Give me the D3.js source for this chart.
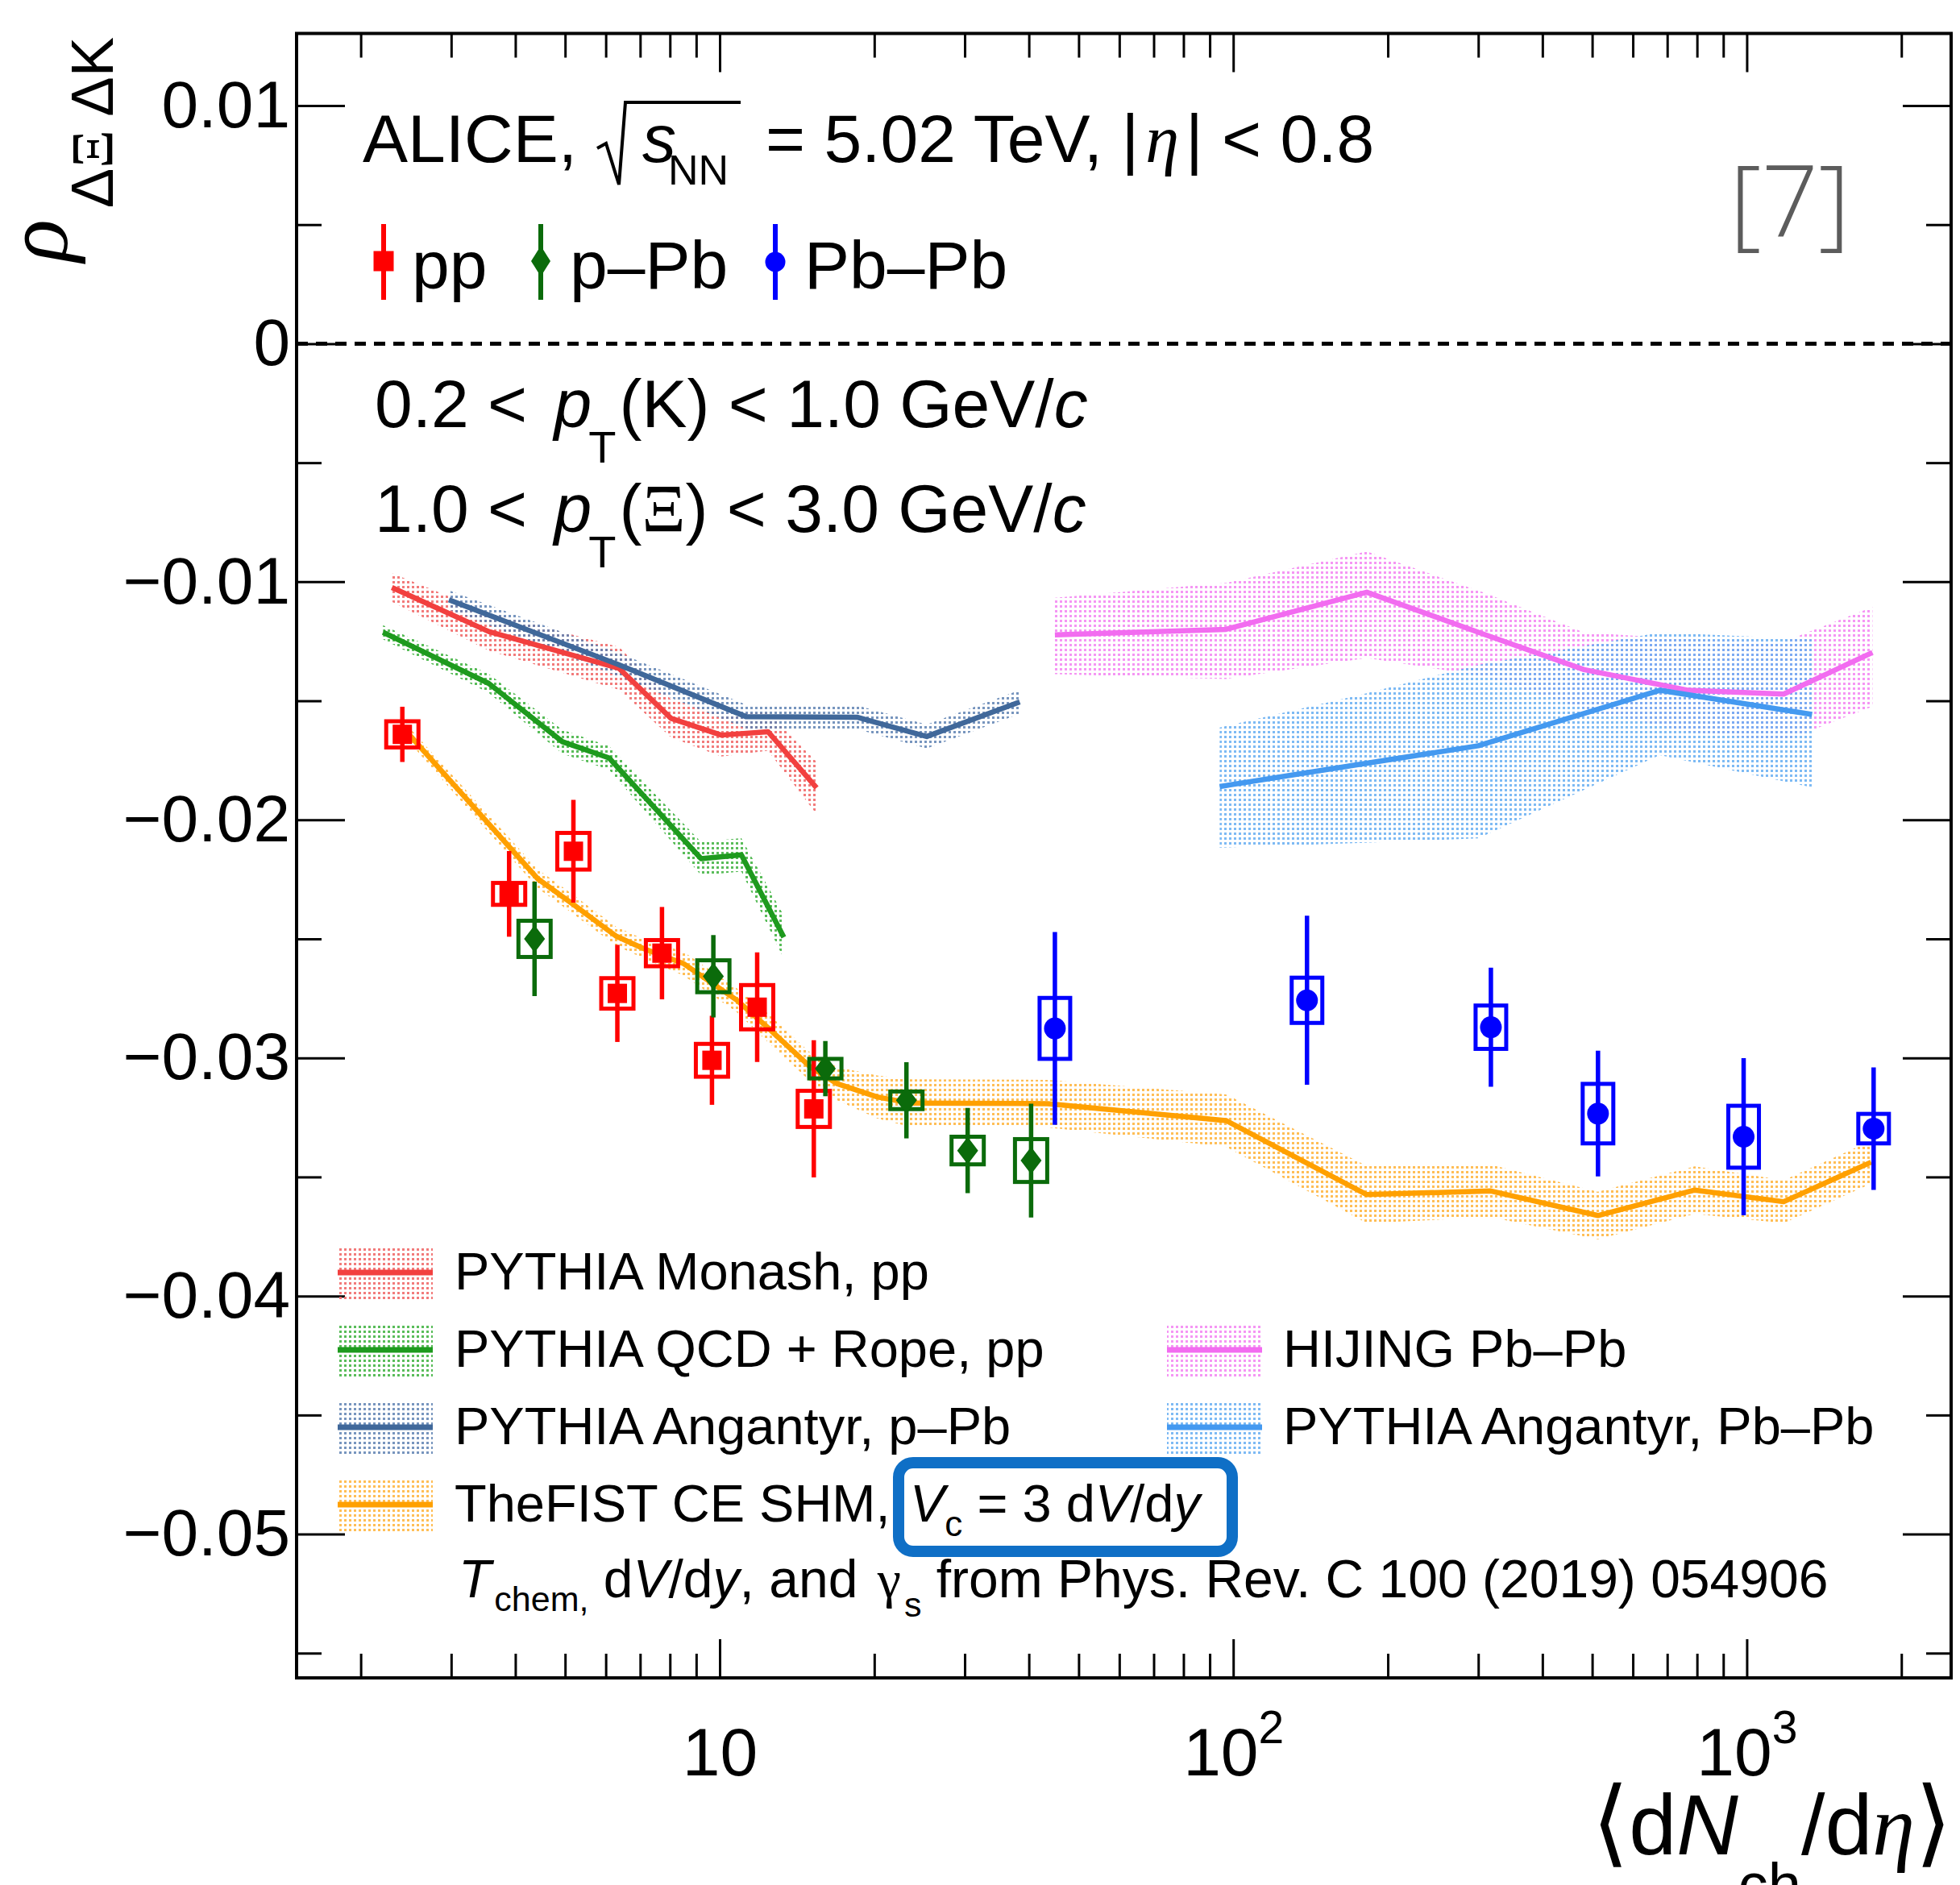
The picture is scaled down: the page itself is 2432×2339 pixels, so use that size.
<!DOCTYPE html>
<html><head><meta charset="utf-8">
<script src="https://cdn.jsdelivr.net/npm/d3@7"></script>
<style>
body{margin:0;background:#fff}
</style>
</head><body>
<svg id="chart" width="2432" height="2339" xmlns="http://www.w3.org/2000/svg"></svg>
<script>
// ---------------- DATA ----------------
// pp (red squares)
const ppX    = [2.41, 3.89, 5.19, 6.32, 7.72, 9.66, 11.83, 15.25];
const ppY    = [-0.01641, -0.02311, -0.02132, -0.02729, -0.02560, -0.03010, -0.02787, -0.03214];
const ppStat = [0.00116, 0.00180, 0.00216, 0.00204, 0.00194, 0.00187, 0.00230, 0.00288];
const ppSys  = [0.00055, 0.00046, 0.00077, 0.00064, 0.00055, 0.00069, 0.00093, 0.00076];
// p-Pb (green diamonds)
const pPbX    = [4.36, 9.72, 16.06, 23.1, 30.4, 40.4];
const pPbY    = [-0.02500, -0.02657, -0.03045, -0.03178, -0.03389, -0.03431];
const pPbStat = [0.00240, 0.00173, 0.00116, 0.00160, 0.00179, 0.00239];
const pPbSys  = [0.00076, 0.00067, 0.00041, 0.00037, 0.00058, 0.00090];
// Pb-Pb (blue circles)
const PbPbX    = [44.95, 139.2, 317.5, 513.2, 986, 1766];
const PbPbY    = [-0.02876, -0.02758, -0.02871, -0.03234, -0.03331, -0.03297];
const PbPbStat = [0.00405, 0.00355, 0.00250, 0.00264, 0.00330, 0.00257];
const PbPbSys  = [0.00128, 0.00095, 0.00091, 0.00125, 0.00130, 0.00062];

// Models
const monashX  = [2.30, 3.55, 6.37, 8.04, 10.07, 12.42, 15.44];
const monashY  = [-0.01024, -0.01209, -0.01364, -0.01574, -0.01644, -0.01630, -0.01866];
const monashE  = [0.0006, 0.0008, 0.0009, 0.0008, 0.0009, 0.0008, 0.0011];

const ropeX = [2.21, 3.55, 4.94, 6.09, 9.20, 11.02, 13.33];
const ropeY = [-0.01212, -0.01427, -0.01672, -0.01740, -0.02163, -0.02147, -0.02493];
const ropeE = [0.0003, 0.0004, 0.0005, 0.0005, 0.0007, 0.0007, 0.0009];

const angPPbX = [2.97, 6.37, 11.27, 18.5, 25.3, 38.4];
const angPPbY = [-0.01076, -0.01349, -0.01567, -0.01569, -0.01650, -0.01505];
const angPPbE = [0.0004, 0.0005, 0.0005, 0.0005, 0.0005, 0.0005];

const fistX = [2.41, 4.42, 5.17, 6.28, 7.09, 8.49, 10.79, 12.35, 15.01, 16.93, 20.26, 23.54, 43.5, 96.8, 182, 317.5, 513, 792, 1180, 1746];
const fistY = [-0.01610, -0.02247, -0.02353, -0.02488, -0.02540, -0.02603, -0.02757, -0.02869, -0.03038, -0.03108, -0.03164, -0.03190, -0.03192, -0.03263, -0.03574, -0.03559, -0.03662, -0.03555, -0.03604, -0.03438];
const fistE = [0.0003, 0.0004, 0.0004, 0.0004, 0.0004, 0.0005, 0.0005, 0.0006, 0.0006, 0.0007, 0.0009, 0.0010, 0.0010, 0.0011, 0.0012, 0.0011, 0.0010, 0.0010, 0.0009, 0.0009];

const hijingX  = [44.95, 96.8, 182, 310, 482, 770, 1180, 1757];
const hijingY  = [-0.01223, -0.01200, -0.01044, -0.01223, -0.01369, -0.01456, -0.01472, -0.01297];
const hijingHi = [-0.01067, -0.01005, -0.00873, -0.01048, -0.01213, -0.01242, -0.01252, -0.01106];
const hijingLo = [-0.01388, -0.01408, -0.01320, -0.01398, -0.01534, -0.01631, -0.01670, -0.01524];

const angPbPbX  = [94.1, 176, 300, 677, 1340];
const angPbPbY  = [-0.01860, -0.01767, -0.01689, -0.01456, -0.01557];
const angPbPbHi = [-0.01612, -0.01476, -0.01349, -0.01213, -0.01242];
const angPbPbLo = [-0.02117, -0.02097, -0.02078, -0.01728, -0.01864];

// Axis ticks
const yMajorTicks = [-0.05, -0.04, -0.03, -0.02, -0.01, 0, 0.01];
const yMinorTicks = [-0.055, -0.045, -0.035, -0.025, -0.015, -0.005, 0.005];
const xMajorTicks = [10, 100, 1000];
const xMajorLabels = [["10", ""], ["10", "2"], ["10", "3"]];
const xMinorTicks = [2,3,4,5,6,7,8,9,20,30,40,50,60,70,80,90,200,300,400,500,600,700,800,900,2000];

// ---------------- LAYOUT ----------------
const L = 368, R = 2421, T = 41.5, B = 2082;
const svg = d3.select('#chart');
const x = d3.scaleLog().domain([1.5, 2500]).range([L, R]);
const y = d3.scaleLinear().domain([-0.05604, 0.01303]).range([B, T]);
const SANS = "'Liberation Sans', Arial, Helvetica, sans-serif";
const SERIF = "'Liberation Serif', 'Times New Roman', serif";

const C = {
  pp: '#FF0000', pPb: '#0B6B0B', PbPb: '#0000FF',
  monash: '#F2403F', rope: '#1E9A1E', angP: '#40689A', fist: '#FFA000',
  hijing: '#F26CF0', angPb: '#4499F0'
};
const defs = svg.append('defs');
function pattern(id, color) {
  const p = defs.append('pattern').attr('id', id).attr('patternUnits', 'userSpaceOnUse')
    .attr('width', 6).attr('height', 6);
  p.append('rect').attr('x', 1).attr('y', 1).attr('width', 3).attr('height', 3)
    .attr('fill', color).attr('fill-opacity', 0.85);
}
pattern('p-monash', '#F06464');
pattern('p-rope', '#3CB03C');
pattern('p-angP', '#5F83B3');
pattern('p-fist', '#FFB338');
pattern('p-hijing', '#F484F2');
pattern('p-angPb', '#66AEF2');

const zip = (xs, ys, lo, hi) => xs.map((v, i) => ({x: v, y: ys[i], lo: lo[i], hi: hi[i]}));
const sym = (xs, ys, es) => zip(xs, ys, ys.map((v, i) => v - es[i]), ys.map((v, i) => v + es[i]));

const area = d3.area().x(d => x(d.x)).y0(d => y(d.lo)).y1(d => y(d.hi));
const line = d3.line().x(d => x(d.x)).y(d => y(d.y));

const models = [
  {d: zip(hijingX, hijingY, hijingLo, hijingHi), c: C.hijing, p: 'p-hijing'},
  {d: zip(angPbPbX, angPbPbY, angPbPbLo, angPbPbHi), c: C.angPb, p: 'p-angPb'},
  {d: sym(monashX, monashY, monashE), c: C.monash, p: 'p-monash'},
  {d: sym(angPPbX, angPPbY, angPPbE), c: C.angP, p: 'p-angP'},
  {d: sym(ropeX, ropeY, ropeE), c: C.rope, p: 'p-rope'},
  {d: sym(fistX, fistY, fistE), c: C.fist, p: 'p-fist'}
];
const gm = svg.append('g');
models.forEach(m => gm.append('path').attr('d', area(m.d)).attr('fill', `url(#${m.p})`));
models.forEach(m => gm.append('path').attr('d', line(m.d)).attr('fill', 'none')
  .attr('stroke', m.c).attr('stroke-width', 6.5).attr('stroke-linejoin', 'round'));

// zero line
svg.append('line').attr('x1', L).attr('x2', R).attr('y1', y(0)).attr('y2', y(0))
  .attr('stroke', '#000').attr('stroke-width', 5).attr('stroke-dasharray', '14,10');

// ---------------- DATA POINTS ----------------
function drawSet(xs, ys, st, sy, color, marker, boxW) {
  const g = svg.append('g');
  const d = xs.map((v, i) => ({x: v, y: ys[i], s: st[i], e: sy[i]}));
  g.selectAll('rect.sys').data(d).join('rect').attr('class', 'sys')
    .attr('x', p => x(p.x) - boxW / 2).attr('width', boxW)
    .attr('y', p => y(p.y + p.e)).attr('height', p => y(p.y - p.e) - y(p.y + p.e))
    .attr('fill', 'none').attr('stroke', color).attr('stroke-width', 5);
  g.selectAll('line.stat').data(d).join('line').attr('class', 'stat')
    .attr('x1', p => x(p.x)).attr('x2', p => x(p.x))
    .attr('y1', p => y(p.y + p.s)).attr('y2', p => y(p.y - p.s))
    .attr('stroke', color).attr('stroke-width', 5.5);
  d.forEach(p => marker(g, x(p.x), y(p.y), color));
}
const squareM = (g, cx, cy, c, s = 24) => g.append('rect').attr('x', cx - s / 2).attr('y', cy - s / 2)
  .attr('width', s).attr('height', s).attr('fill', c);
const diamondM = (g, cx, cy, c, hw = 13, hh = 17) => g.append('path')
  .attr('d', `M${cx},${cy - hh}L${cx + hw},${cy}L${cx},${cy + hh}L${cx - hw},${cy}Z`).attr('fill', c);
const circleM = (g, cx, cy, c, r = 13.5) => g.append('circle').attr('cx', cx).attr('cy', cy).attr('r', r).attr('fill', c);

drawSet(ppX, ppY, ppStat, ppSys, C.pp, squareM, 40);
drawSet(pPbX, pPbY, pPbStat, pPbSys, C.pPb, diamondM, 40);
drawSet(PbPbX, PbPbY, PbPbStat, PbPbSys, C.PbPb, circleM, 38);

// ---------------- AXES ----------------
function styleAxis(g) {
  g.select('.domain').remove();
  g.selectAll('line').attr('stroke', '#000').attr('stroke-width', 3);
  g.attr('font-family', SANS);
}
svg.append('g').attr('transform', `translate(0,${B})`)
  .call(d3.axisBottom(x).tickValues(xMinorTicks).tickSize(-30).tickSizeOuter(0).tickFormat('')).call(styleAxis);
const xb = svg.append('g').attr('transform', `translate(0,${B})`)
  .call(d3.axisBottom(x).tickValues(xMajorTicks).tickSize(-48).tickSizeOuter(0).tickFormat('')).call(styleAxis);
svg.append('g').attr('transform', `translate(0,${T})`)
  .call(d3.axisTop(x).tickValues(xMinorTicks).tickSize(-30).tickSizeOuter(0).tickFormat('')).call(styleAxis);
svg.append('g').attr('transform', `translate(0,${T})`)
  .call(d3.axisTop(x).tickValues(xMajorTicks).tickSize(-48).tickSizeOuter(0).tickFormat('')).call(styleAxis);

const fmtY = v => v === 0 ? '0' : (v < 0 ? '\u2212' : '') + Math.abs(v).toFixed(2);
const yl = svg.append('g').attr('transform', `translate(${L},0)`)
  .call(d3.axisLeft(y).tickValues(yMajorTicks).tickSize(-60).tickPadding(8).tickSizeOuter(0).tickFormat(fmtY)).call(styleAxis);
yl.selectAll('text').attr('font-size', 82).attr('fill', '#000').attr('font-family', SANS);
svg.append('g').attr('transform', `translate(${L},0)`)
  .call(d3.axisLeft(y).tickValues(yMinorTicks).tickSize(-31).tickSizeOuter(0).tickFormat('')).call(styleAxis);
svg.append('g').attr('transform', `translate(${R},0)`)
  .call(d3.axisRight(y).tickValues(yMajorTicks).tickSize(-60).tickSizeOuter(0).tickFormat('')).call(styleAxis);
svg.append('g').attr('transform', `translate(${R},0)`)
  .call(d3.axisRight(y).tickValues(yMinorTicks).tickSize(-31).tickSizeOuter(0).tickFormat('')).call(styleAxis);

// x tick labels with superscripts
xb.selectAll('.tick').each(function(d, i) {
  const t = d3.select(this).append('text').attr('y', 2203 - B).attr('text-anchor', 'middle')
    .attr('font-size', 84).attr('font-family', SANS).attr('fill', '#000');
  t.append('tspan').text(xMajorLabels[i][0]);
  if (xMajorLabels[i][1]) t.append('tspan').attr('dy', -40).attr('font-size', 57).text(xMajorLabels[i][1]);
});

// frame
svg.append('rect').attr('x', L).attr('y', T).attr('width', R - L).attr('height', B - T)
  .attr('fill', 'none').attr('stroke', '#000').attr('stroke-width', 4);

// ---------------- TEXT ----------------
function rich(parent, px, py, size, segs, anchor) {
  const t = parent.append('text').attr('x', px).attr('y', py).attr('font-size', size)
    .attr('text-anchor', anchor || 'start').attr('font-family', SANS).attr('fill', '#000');
  let cur = 0;
  segs.forEach(s => {
    const sp = t.append('tspan').text(s.t);
    const target = s.dy || 0;
    if (target !== cur) sp.attr('dy', target - cur);
    cur = target;
    if (s.size) sp.attr('font-size', s.size);
    if (s.i) sp.attr('font-style', 'italic');
    if (s.f) sp.attr('font-family', s.f);
    if (s.dx) sp.attr('dx', s.dx);
  });
  return t;
}

// Title
rich(svg, 450, 201, 84, [{t: 'ALICE,'}]);
svg.append('path').attr('d', 'M741,184L752,178L768,229L776,127L919,127')
  .attr('fill', 'none').attr('stroke', '#000').attr('stroke-width', 4).attr('stroke-linejoin', 'miter');
rich(svg, 797, 201, 84, [{t: 's', i: 1}]);
rich(svg, 829, 229, 52, [{t: 'NN'}]);
rich(svg, 950, 201, 84, [{t: '= 5.02 TeV, |'}, {t: '\u03B7', i: 1, f: SERIF, dx: 8}, {t: '| < 0.8', dx: 8}]);

// top legend
const tl = svg.append('g');
[[476, C.pp, (g, cx, c) => squareM(g, cx, 324, c, 25)],
 [671, C.pPb, (g, cx, c) => diamondM(g, cx, 324, c, 12, 19)],
 [962, C.PbPb, (g, cx, c) => circleM(g, cx, 325, c, 12.5)]].forEach(([cx, c, m]) => {
  tl.append('line').attr('x1', cx).attr('x2', cx).attr('y1', 278).attr('y2', 372)
    .attr('stroke', c).attr('stroke-width', 6);
  m(tl, cx, c);
});
rich(svg, 511, 358, 84, [{t: 'pp'}]);
rich(svg, 707, 358, 84, [{t: 'p\u2013Pb'}]);
rich(svg, 998, 358, 84, [{t: 'Pb\u2013Pb'}]);

// kinematic ranges
rich(svg, 465, 530, 84, [{t: '0.2 < '}, {t: 'p', i: 1, dx: 10}, {t: 'T', dy: 44, size: 56, dx: -4},
  {t: '(K) < 1.0 GeV/', dy: 0, dx: 4}, {t: 'c', i: 1}]);
rich(svg, 465, 660, 84, [{t: '1.0 < '}, {t: 'p', i: 1, dx: 10}, {t: 'T', dy: 44, size: 56, dx: -4},
  {t: '(', dy: 0, dx: 4}, {t: '\u039E', f: SERIF}, {t: ') < 3.0 GeV/'}, {t: 'c', i: 1}]);

// reference tag
svg.append('text').attr('x', 2146).attr('y', 294).attr('font-size', 124)
  .attr('font-family', "'Open Sans', 'Noto Sans', sans-serif").attr('font-weight', 300)
  .style('fill', '#5c5c5c').text('[7]');

// y-axis title
rich(svg, 0, 0, 110, [{t: '\u03C1', i: 1, f: SERIF},
  {t: '\u0394', dy: 57, size: 74, dx: 14}, {t: '\u039E', dy: 57, size: 74, f: SERIF},
  {t: ' \u0394K', dy: 57, size: 74}]).attr('transform', 'translate(83,325) rotate(-90)');

// x-axis title
rich(svg, 2422, 2301, 106, [{t: '\u27E8', f: "'DejaVu Sans', sans-serif", size: 118},
  {t: 'd'}, {t: 'N', i: 1}, {t: 'ch', dy: 63, size: 74}, {t: '/d', dy: 0},
  {t: '\u03B7', i: 1, f: SERIF}, {t: '\u27E9', f: "'DejaVu Sans', sans-serif", size: 118}], 'end');

// bottom legend
const legRows = [1579, 1675, 1771, 1867];
const legend = [
  {col: 0, row: 0, c: C.monash, p: 'p-monash', label: [{t: 'PYTHIA Monash, pp'}]},
  {col: 0, row: 1, c: C.rope, p: 'p-rope', label: [{t: 'PYTHIA QCD + Rope, pp'}]},
  {col: 0, row: 2, c: C.angP, p: 'p-angP', label: [{t: 'PYTHIA Angantyr, p\u2013Pb'}]},
  {col: 0, row: 3, c: C.fist, p: 'p-fist', label: [{t: 'TheFIST CE SHM, '}]},
  {col: 1, row: 1, c: C.hijing, p: 'p-hijing', label: [{t: 'HIJING Pb\u2013Pb'}]},
  {col: 1, row: 2, c: C.angPb, p: 'p-angPb', label: [{t: 'PYTHIA Angantyr, Pb\u2013Pb'}]}
];
const lg = svg.append('g');
legend.forEach(e => {
  const bx = e.col ? 1448 : 419, cy = legRows[e.row];
  lg.append('rect').attr('x', bx).attr('y', cy - 33).attr('width', 118).attr('height', 66)
    .attr('fill', `url(#${e.p})`);
  lg.append('line').attr('x1', bx).attr('x2', bx + 118).attr('y1', cy).attr('y2', cy)
    .attr('stroke', e.c).attr('stroke-width', 7);
  rich(lg, e.col ? 1592 : 564, cy + 21, 65, e.label);
});
rich(lg, 1129, 1888, 65, [{t: 'V', i: 1}, {t: 'c', dy: 18, size: 44}, {t: ' = 3 d', dy: 0},
  {t: 'V', i: 1}, {t: '/d'}, {t: 'y', i: 1}]);
svg.append('rect').attr('x', 1115).attr('y', 1815).attr('width', 414).attr('height', 110)
  .attr('rx', 18).attr('fill', 'none').attr('stroke', '#0F6FC6').attr('stroke-width', 14);
rich(lg, 569, 1982, 66, [{t: 'T', i: 1}, {t: 'chem', dy: 17, size: 43, dx: 4}, {t: ',', dy: 17, size: 43},
  {t: ' d', dy: 0}, {t: 'V', i: 1}, {t: '/d'}, {t: 'y', i: 1}, {t: ', and '},
  {t: '\u03B3', f: SERIF, dx: 6}, {t: 's', dy: 24, size: 43, dx: 4},
  {t: ' from Phys. Rev. C 100 (2019) 054906', dy: 0}]);
</script>
</body></html>
